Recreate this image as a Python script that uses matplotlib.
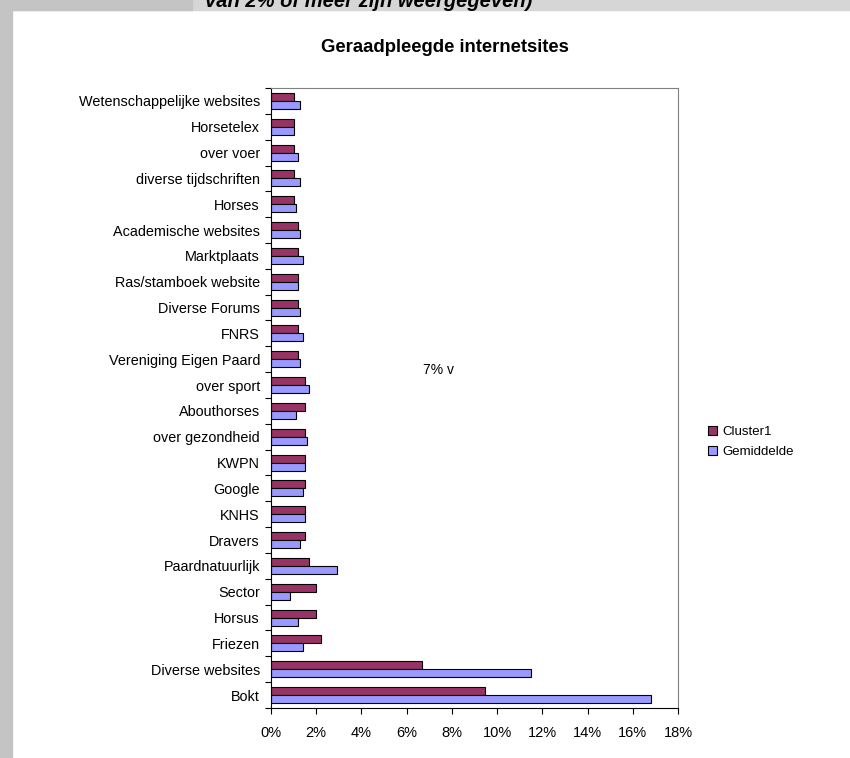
import matplotlib
matplotlib.use("Agg")
import matplotlib.pyplot as plt
import numpy as np
from matplotlib.patches import Rectangle
from matplotlib.ticker import FuncFormatter, MultipleLocator

plt.rcParams['font.family'] = ['Liberation Sans', 'DejaVu Sans']

# ----- Data (bottom to top, as drawn) -----
categories = ["Bokt", "Diverse websites", "Friezen", "Horsus", "Sector",
              "Paardnatuurlijk", "Dravers", "KNHS", "Google", "KWPN",
              "over gezondheid", "Abouthorses", "over sport",
              "Vereniging Eigen Paard", "FNRS", "Diverse Forums",
              "Ras/stamboek website", "Marktplaats", "Academische websites",
              "Horses", "diverse tijdschriften", "over voer", "Horsetelex",
              "Wetenschappelijke websites"]
cluster1   = [9.45, 6.7, 2.2, 2.0, 2.0, 1.7, 1.5, 1.5, 1.5, 1.5, 1.5, 1.5, 1.5,
              1.2, 1.2, 1.2, 1.2, 1.2, 1.2, 1.0, 1.0, 1.0, 1.0, 1.0]
gemiddelde = [16.8, 11.5, 1.4, 1.2, 0.85, 2.9, 1.3, 1.5, 1.4, 1.5, 1.6, 1.1, 1.7,
              1.3, 1.4, 1.3, 1.2, 1.4, 1.3, 1.1, 1.3, 1.2, 1.0, 1.3]
series_names = ["Cluster1", "Gemiddelde"]
# -------------------------------------------

MAROON   = "#993366"
LAVENDER = "#9999FF"

fig = plt.figure(figsize=(8.5, 7.58), dpi=100)

# page decoration around the chart object
fig.patches.append(Rectangle((0, 1 - 10 / 758), 1, 10 / 758, transform=fig.transFigure,
                             color="#d6d6d6", zorder=0))
fig.patches.append(Rectangle((0, 1 - 10 / 758), 192 / 850, 10 / 758, transform=fig.transFigure,
                             color="#c4c4c4", zorder=1))
fig.patches.append(Rectangle((0, 0), 12 / 850, 1, transform=fig.transFigure,
                             color="#c4c4c4", zorder=1))
fig.text(205 / 850, 1 - 7 / 758, "van 2% of meer zijn weergegeven)", fontsize=14.5,
         fontweight="bold", style="italic", ha="left", va="baseline")

ax = fig.add_axes([271 / 850, 1 - 708 / 758, 407 / 850, 620 / 758])

y = np.arange(len(categories))
h = 0.31
ax.barh(y + h / 2, cluster1, height=h, color=MAROON, edgecolor="black",
        linewidth=0.8, label=series_names[0])
ax.barh(y - h / 2, gemiddelde, height=h, color=LAVENDER, edgecolor="black",
        linewidth=0.8, label=series_names[1])

ax.set_xlim(0, 18)
ax.set_ylim(-0.5, len(categories) - 0.5)
ax.xaxis.set_major_locator(MultipleLocator(2))
ax.xaxis.set_major_formatter(FuncFormatter(lambda v, p: f"{v:.0f}%"))

ax.set_yticks(y)
ax.set_yticklabels(categories)
ax.set_yticks(np.arange(-0.5, len(categories)), minor=True)
ax.tick_params(axis="y", which="major", length=0, pad=8, labelsize=10.4)
ax.tick_params(axis="y", which="minor", length=4, width=0.8, direction="out")
ax.tick_params(axis="x", length=4, width=0.8, direction="out", pad=9, labelsize=10.5)

for s in ["top", "right"]:
    ax.spines[s].set_color("#808080")
for s in ["left", "bottom"]:
    ax.spines[s].set_color("black")

fig.text(445 / 850, 1 - 47 / 758, "Geraadpleegde internetsites", fontsize=13.3,
         fontweight="bold", ha="center", va="center")
fig.text(423 / 850, 1 - 370 / 758, "7% v", fontsize=10, ha="left", va="center")

fig.legend(loc="center left", bbox_to_anchor=(696 / 850, 1 - 442 / 758),
           frameon=False, fontsize=9.5, handlelength=0.7, handleheight=0.7,
           handletextpad=0.4, labelspacing=0.55)

fig.savefig("out.png", dpi=100)
